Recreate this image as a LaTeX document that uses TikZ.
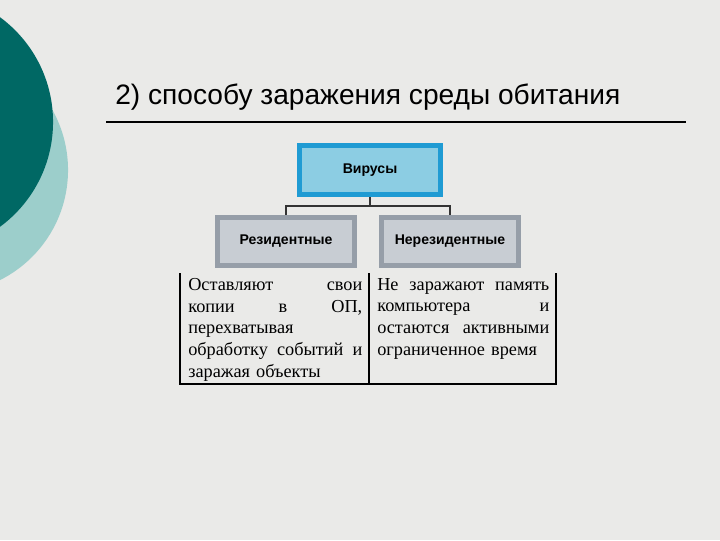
\documentclass[tikz,border=0pt]{standalone}
\usepackage{fontspec}
\setmainfont{Liberation Serif}
\setsansfont{Liberation Sans}
\usetikzlibrary{positioning}
\definecolor{slidebg}{RGB}{234,234,232}
\definecolor{tealdark}{RGB}{0,104,100}
\definecolor{teallight}{RGB}{156,206,203}
\definecolor{virusblue}{RGB}{31,155,211}
\definecolor{virusfill}{RGB}{140,205,227}
\definecolor{kindgrey}{RGB}{150,158,168}
\definecolor{kindfill}{RGB}{200,205,211}

\begin{document}
\begin{tikzpicture}[x=0.025cm, y=-0.025cm,
    topbox/.style={draw=virusblue, fill=virusfill, line width=3.5pt,
        minimum width=3.53cm, minimum height=1.23cm,
        font=\sffamily\bfseries\fontsize{10}{12}\selectfont},
    kindbox/.style={draw=kindgrey, fill=kindfill, line width=3.5pt,
        minimum width=3.43cm, minimum height=1.2cm,
        font=\sffamily\bfseries\fontsize{10}{12}\selectfont},
    cell/.style={anchor=north west, inner sep=0pt, align=left,
        font=\fontsize{13}{15.4}\selectfont}]
    % Slide background
    \useasboundingbox (0,0) rectangle (720,540);
    \clip (0,0) rectangle (720,540);
    \fill[slidebg] (0,0) rectangle (720,540);
    \fill[teallight] (-55,170) circle [radius=3.075cm];
    \fill[tealdark] (-77,122) circle [radius=3.25cm];

    % Title
    \node[anchor=base west, inner sep=0pt, font=\sffamily\fontsize{20}{24}\selectfont] (title) at (115,104) {2) способу заражения среды обитания};
    \draw[line width=0.8pt] (106,122) -- (686,122);

    % Tree of virus kinds
    \node[topbox] (virus) at (370,170) {Вирусы};
    \node[kindbox] (rez) at (286,241.5) {Резидентные};
    \node[kindbox] (nrez) at (450,241.5) {Нерезидентные};
    \draw[line width=1pt, color=black!80] (virus.south) -- ++(0,9) coordinate (bar);
    \draw[line width=1pt, color=black!80] (rez.north) |- (bar) -| (nrez.north);

    % Table under the kinds
    \draw[line width=0.8pt] (180,273) -- (180,384) -- (556,384) -- (556,273);
    \draw[line width=0.8pt] (369,273) -- (369,384);
    \node[cell, text width=4.35cm] (rezcell) at (188,278) {Оставляют\hfill свои\\копии\hfill в\hfill ОП,\\перехватывая\\обработку\hfill событий\hfill и\\заражая объекты};
    \node[cell, text width=4.3cm] (nrezcell) at (377,278) {Не\hfill заражают\hfill память\\компьютера\hfill и\\остаются\hfill активными\\ограниченное время};
\end{tikzpicture}
\end{document}
